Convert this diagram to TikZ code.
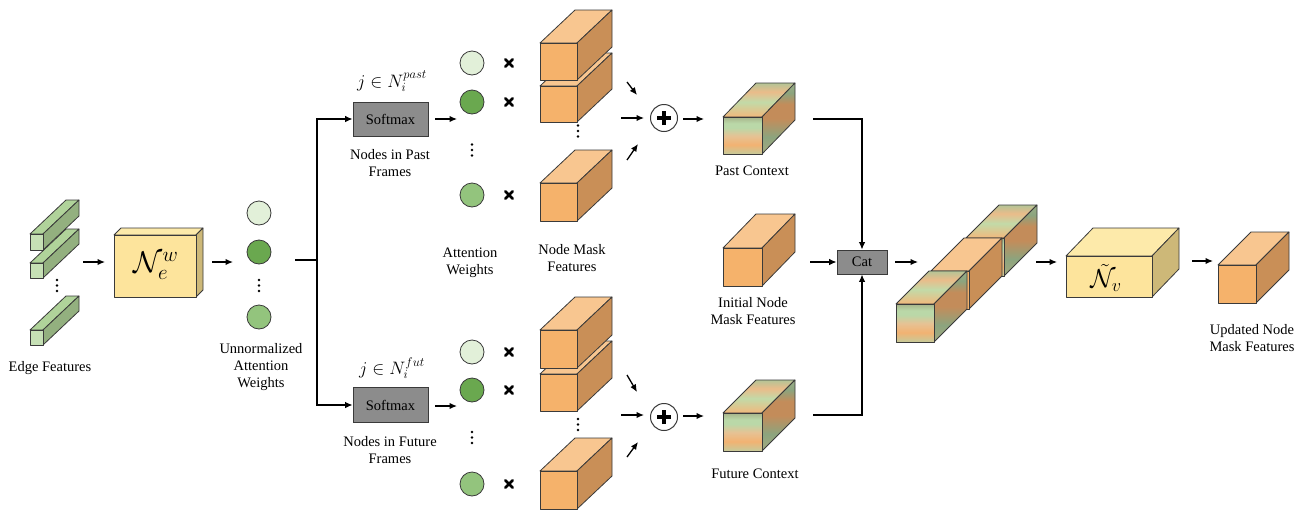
\documentclass[tikz,border=0pt]{standalone}
\usepackage{fix-cm}
\usepackage{fontspec}
\setmainfont{Liberation Serif}
\usetikzlibrary{arrows.meta}

\definecolor{orF}{HTML}{F5B26B}
\definecolor{orT}{HTML}{F8C690}
\definecolor{orS}{HTML}{C98F57}
\definecolor{grF}{HTML}{C6E0B5}
\definecolor{grT}{HTML}{B0D39A}
\definecolor{grS}{HTML}{93B07F}
\definecolor{yeF}{HTML}{FDE49C}
\definecolor{yeT}{HTML}{FDEAAA}
\definecolor{yeS}{HTML}{CDB878}
\definecolor{edgec}{HTML}{3A3A3A}
\definecolor{cL}{HTML}{E2F0D9}
\definecolor{cD}{HTML}{6AA84F}
\definecolor{cM}{HTML}{93C47D}
\definecolor{boxg}{HTML}{8C8C8C}
% stripe colours
\definecolor{fa}{HTML}{C4CC9C}
\definecolor{fb}{HTML}{F2B272}
\definecolor{fc}{HTML}{E6C294}
\definecolor{fd}{HTML}{BAD8A8}
\definecolor{fe}{HTML}{A8B68C}
\definecolor{ta}{HTML}{F2B87C}
\definecolor{tb}{HTML}{C2DAA8}
\definecolor{tc}{HTML}{EABC8A}
\definecolor{td}{HTML}{B4C496}
\definecolor{sa}{HTML}{A4AA80}
\definecolor{sb}{HTML}{8CA47E}
\definecolor{sc}{HTML}{C38C5A}
\definecolor{sd}{HTML}{9AAE88}

\pgfdeclareverticalshading{stfront}{100bp}{color(0bp)=(fa); color(25bp)=(fa); color(38bp)=(fb); color(50bp)=(fc); color(61bp)=(fd); color(67bp)=(fd); color(75bp)=(fe); color(100bp)=(fe)}
\pgfdeclareverticalshading{sttop}{100bp}{color(0bp)=(ta); color(25bp)=(ta); color(47bp)=(tb); color(62bp)=(tc); color(75bp)=(td); color(100bp)=(td)}
\pgfdeclareverticalshading{stside}{100bp}{color(0bp)=(sa); color(25bp)=(sa); color(37bp)=(sb); color(50bp)=(sc); color(60bp)=(sc); color(68bp)=(sb); color(75bp)=(sd); color(100bp)=(sd)}

\tikzset{
  cubeedge/.style={draw=edgec, line width=0.8pt, line join=round},
  arr/.style={-{Latex[length=7.5pt,width=6.5pt]}, line width=1.3pt},
  conn/.style={line width=1.5pt},
  thk/.style={line width=1.9pt},
  lbl/.style={font=\fontsize{14.5}{17}\selectfont, align=center, inner sep=0pt},
  mlbl/.style={font=\fontsize{18}{20}\selectfont, inner sep=0pt},
  graybox/.style={draw=edgec, fill=boxg, line width=0.8pt, font=\fontsize{14.5}{17}\selectfont, inner sep=0pt},
  wcirc/.style={circle, draw=edgec, line width=0.8pt, minimum size=24pt, inner sep=0pt},
  plusc/.style={circle, draw=edgec, line width=1pt, minimum size=27pt, inner sep=0pt},
  xmark/.pic={\draw[line width=2.8pt, line cap=round] (-3.6,-3.6) -- (3.6,3.6) (-3.6,3.6) -- (3.6,-3.6);},
  vdots/.pic={\fill (0,-5.5) circle (1.4) (0,0) circle (1.4) (0,5.5) circle (1.4);},
}

% #1 name, #2 x, #3 y, #4 w, #5 h, #6 dx, #7 dy, #8 colour set
\newcommand\mycube[8]{%
  \filldraw[cubeedge, fill=#8T] (#2,#3) -- ++(#6,-#7) -- ++(#4,0) -- ++(-#6,#7) -- cycle;
  \filldraw[cubeedge, fill=#8S] (#2+#4,#3) -- ++(#6,-#7) -- ++(0,#5) -- ++(-#6,#7) -- cycle;
  \node[cubeedge, fill=#8F, inner sep=0pt, minimum width=#4pt, minimum height=#5pt, anchor=north west] (#1) at (#2,#3) {};
}
% striped cube: #1 name, #2 x, #3 y, #4 w, #5 h, #6 dx, #7 dy
\newcommand\stcube[7]{%
  \shadedraw[cubeedge, shading=sttop] (#2,#3) -- ++(#6,-#7) -- ++(#4,0) -- ++(-#6,#7) -- cycle;
  \shadedraw[cubeedge, shading=stside] (#2+#4,#3) -- ++(#6,-#7) -- ++(0,#5) -- ++(-#6,#7) -- cycle;
  \node[cubeedge, shade, shading=stfront, inner sep=0pt, minimum width=#4pt, minimum height=#5pt, anchor=north west] (#1) at (#2,#3) {};
}

\begin{document}
\begin{tikzpicture}[x=1pt, y=-1pt]
\useasboundingbox (0,0) rectangle (1304,509);
\fill[white] (0,0) rectangle (1304,509);

% ---------- edge features ----------
\mycube{ef2}{30}{263}{13}{15}{36}{34}{gr}
\mycube{ef1}{30}{234}{13}{16}{36}{34}{gr}
\mycube{ef3}{30}{330}{13}{15}{36}{34}{gr}
\pic at (57,285.5) {vdots};
\node[lbl] (eflbl) at (50,368) {Edge Features};

% ---------- N_e^w ----------
\mycube{new}{114}{235}{82}{62}{7}{7}{ye}
\node[inner sep=0pt, font=\fontsize{30}{32}\selectfont] (newtxt) at (156,266) {$\mathcal{N}_e^w$};

\coordinate (a1s) at (83,262); \coordinate (a1e) at (105,262);
\draw[arr] (a1s) -- (a1e);
\coordinate (a2s) at (212,262); \coordinate (a2e) at (233,262);
\draw[arr] (a2s) -- (a2e);

% ---------- unnormalized weights ----------
\node[wcirc, fill=cL] (u1) at (259,213) {};
\node[wcirc, fill=cD] (u2) at (259,252) {};
\node[wcirc, fill=cM] (u3) at (259,317) {};
\pic at (259,285.5) {vdots};
\node[lbl] (ulbl) at (261,367) {Unnormalized\\Attention\\Weights};

% ---------- branch ----------
\node[graybox, minimum width=75pt, minimum height=34pt] (smp) at (390.5,119) {Softmax};
\node[graybox, minimum width=75pt, minimum height=35pt] (smf) at (390.5,405) {Softmax};
\coordinate (uout) at (295,260);
\coordinate (br) at (317,260);
\draw[conn] (uout) -- (br);
\draw[conn, arr] (br) |- (smp.west);
\draw[conn, arr] (br) |- (smf.west);

\node[mlbl] (jp) at (392,81) {$j\in N_i^{past}$};
\node[mlbl] (jf) at (392,368) {$j\in N_i^{fut}$};
\node[lbl] (nplbl) at (390,163) {Nodes in Past\\Frames};
\node[lbl] (nflbl) at (390,450) {Nodes in Future\\Frames};

% ---------- past branch ----------
\coordinate (a3s) at (435,119); \coordinate (a3e) at (457,119);
\draw[arr] (a3s) -- (a3e);
\node[wcirc, fill=cL] (p1) at (472,63) {};
\node[wcirc, fill=cD] (p2) at (472,102) {};
\node[wcirc, fill=cM] (p3) at (472,195) {};
\pic at (472,150) {vdots};
\pic at (509,63) {xmark};
\pic at (509,102) {xmark};
\pic at (509,195) {xmark};
\mycube{po2}{540}{86}{37}{36}{35}{33}{or}
\mycube{po1}{540}{43}{37}{37}{35}{33}{or}
\mycube{po3}{540}{183}{37}{38}{35}{33}{or}
\pic at (578,131) {vdots};
\node[lbl] (awlbl) at (470,263) {Attention\\Weights};
\node[lbl] (nmlbl) at (572,258) {Node Mask\\Features};

\node[plusc] (pp) at (664,118) {};
\draw[line width=3.8pt] ([xshift=-7pt]pp.center) -- ([xshift=7pt]pp.center);
\draw[line width=3.8pt] ([yshift=-7pt]pp.center) -- ([yshift=7pt]pp.center);
\coordinate (b1s) at (627,82); \coordinate (b1e) at (637,95);
\coordinate (b2s) at (621,118); \coordinate (b2e) at (644,118);
\coordinate (b3s) at (627,160); \coordinate (b3e) at (638,144);
\draw[arr] (b1s) -- (b1e);
\draw[arr] (b2s) -- (b2e);
\draw[arr] (b3s) -- (b3e);

% ---------- future branch ----------
\coordinate (a4s) at (435,406); \coordinate (a4e) at (457,406);
\draw[arr] (a4s) -- (a4e);
\node[wcirc, fill=cL] (f1) at (472,352) {};
\node[wcirc, fill=cD] (f2) at (472,390) {};
\node[wcirc, fill=cM] (f3) at (472,484) {};
\pic at (472,437.5) {vdots};
\pic at (509,352) {xmark};
\pic at (509,390) {xmark};
\pic at (509,484) {xmark};
\mycube{fo2}{540}{374}{37}{37}{35}{33}{or}
\mycube{fo1}{540}{330}{37}{38}{35}{33}{or}
\mycube{fo3}{540}{471}{37}{38}{35}{33}{or}
\pic at (578,424.5) {vdots};

\node[plusc] (fp) at (664,417) {};
\draw[line width=3.8pt] ([xshift=-7pt]fp.center) -- ([xshift=7pt]fp.center);
\draw[line width=3.8pt] ([yshift=-7pt]fp.center) -- ([yshift=7pt]fp.center);
\coordinate (c1s) at (627,375); \coordinate (c1e) at (637,392);
\coordinate (c2s) at (621,415); \coordinate (c2e) at (644,415);
\coordinate (c3s) at (627,457); \coordinate (c3e) at (638,442);
\draw[arr] (c1s) -- (c1e);
\draw[arr] (c2s) -- (c2e);
\draw[arr] (c3s) -- (c3e);

% ---------- contexts ----------
\coordinate (d1s) at (683,119); \coordinate (d1e) at (704,119);
\draw[arr] (d1s) -- (d1e);
\coordinate (d2s) at (683,416); \coordinate (d2e) at (704,416);
\draw[arr] (d2s) -- (d2e);

\stcube{pc}{723}{117}{39}{37}{33}{34}
\node[lbl] (pclbl) at (752,171) {Past Context};
\mycube{ic}{723}{248}{39}{38}{33}{34}{or}
\node[lbl] (iclbl) at (753,311) {Initial Node\\Mask Features};
\stcube{fc}{723}{413}{39}{38}{33}{33}
\node[lbl] (fclbl) at (755,474) {Future Context};

\node[graybox, minimum width=50pt, minimum height=24pt] (cat) at (862,262) {Cat};
\coordinate (pcout) at (813,119);
\coordinate (fcout) at (813,415);
\coordinate (icout) at (810,262);
\draw[thk, arr] (pcout) -| (cat.north);
\draw[thk, arr] (fcout) -| (cat.south);
\draw[arr] (icout) -- (cat.west);

% ---------- concatenated stack ----------
\coordinate (e1s) at (895,262); \coordinate (e1e) at (918,262);
\draw[arr] (e1s) -- (e1e);
\stcube{s3}{966}{238}{38}{38}{33}{33}
\mycube{s2}{931}{271}{38}{38}{33}{33}{or}
\stcube{s1}{896}{304}{38}{38}{33}{33}

% ---------- N_v ----------
\coordinate (e2s) at (1036,262); \coordinate (e2e) at (1057,262);
\draw[arr] (e2s) -- (e2e);
\mycube{nv}{1066}{256}{86}{41}{27}{28}{ye}
\node[inner sep=0pt, font=\fontsize{26}{28}\selectfont] (nvtxt) at (1106,278) {$\tilde{\mathcal{N}}_v$};

\coordinate (e3s) at (1192,261); \coordinate (e3e) at (1213,261);
\draw[arr] (e3s) -- (e3e);
\mycube{uc}{1218}{265}{38}{38}{33}{33}{or}
\node[lbl] (uclbl) at (1252,338) {Updated Node\\Mask Features};
\end{tikzpicture}
\end{document}
